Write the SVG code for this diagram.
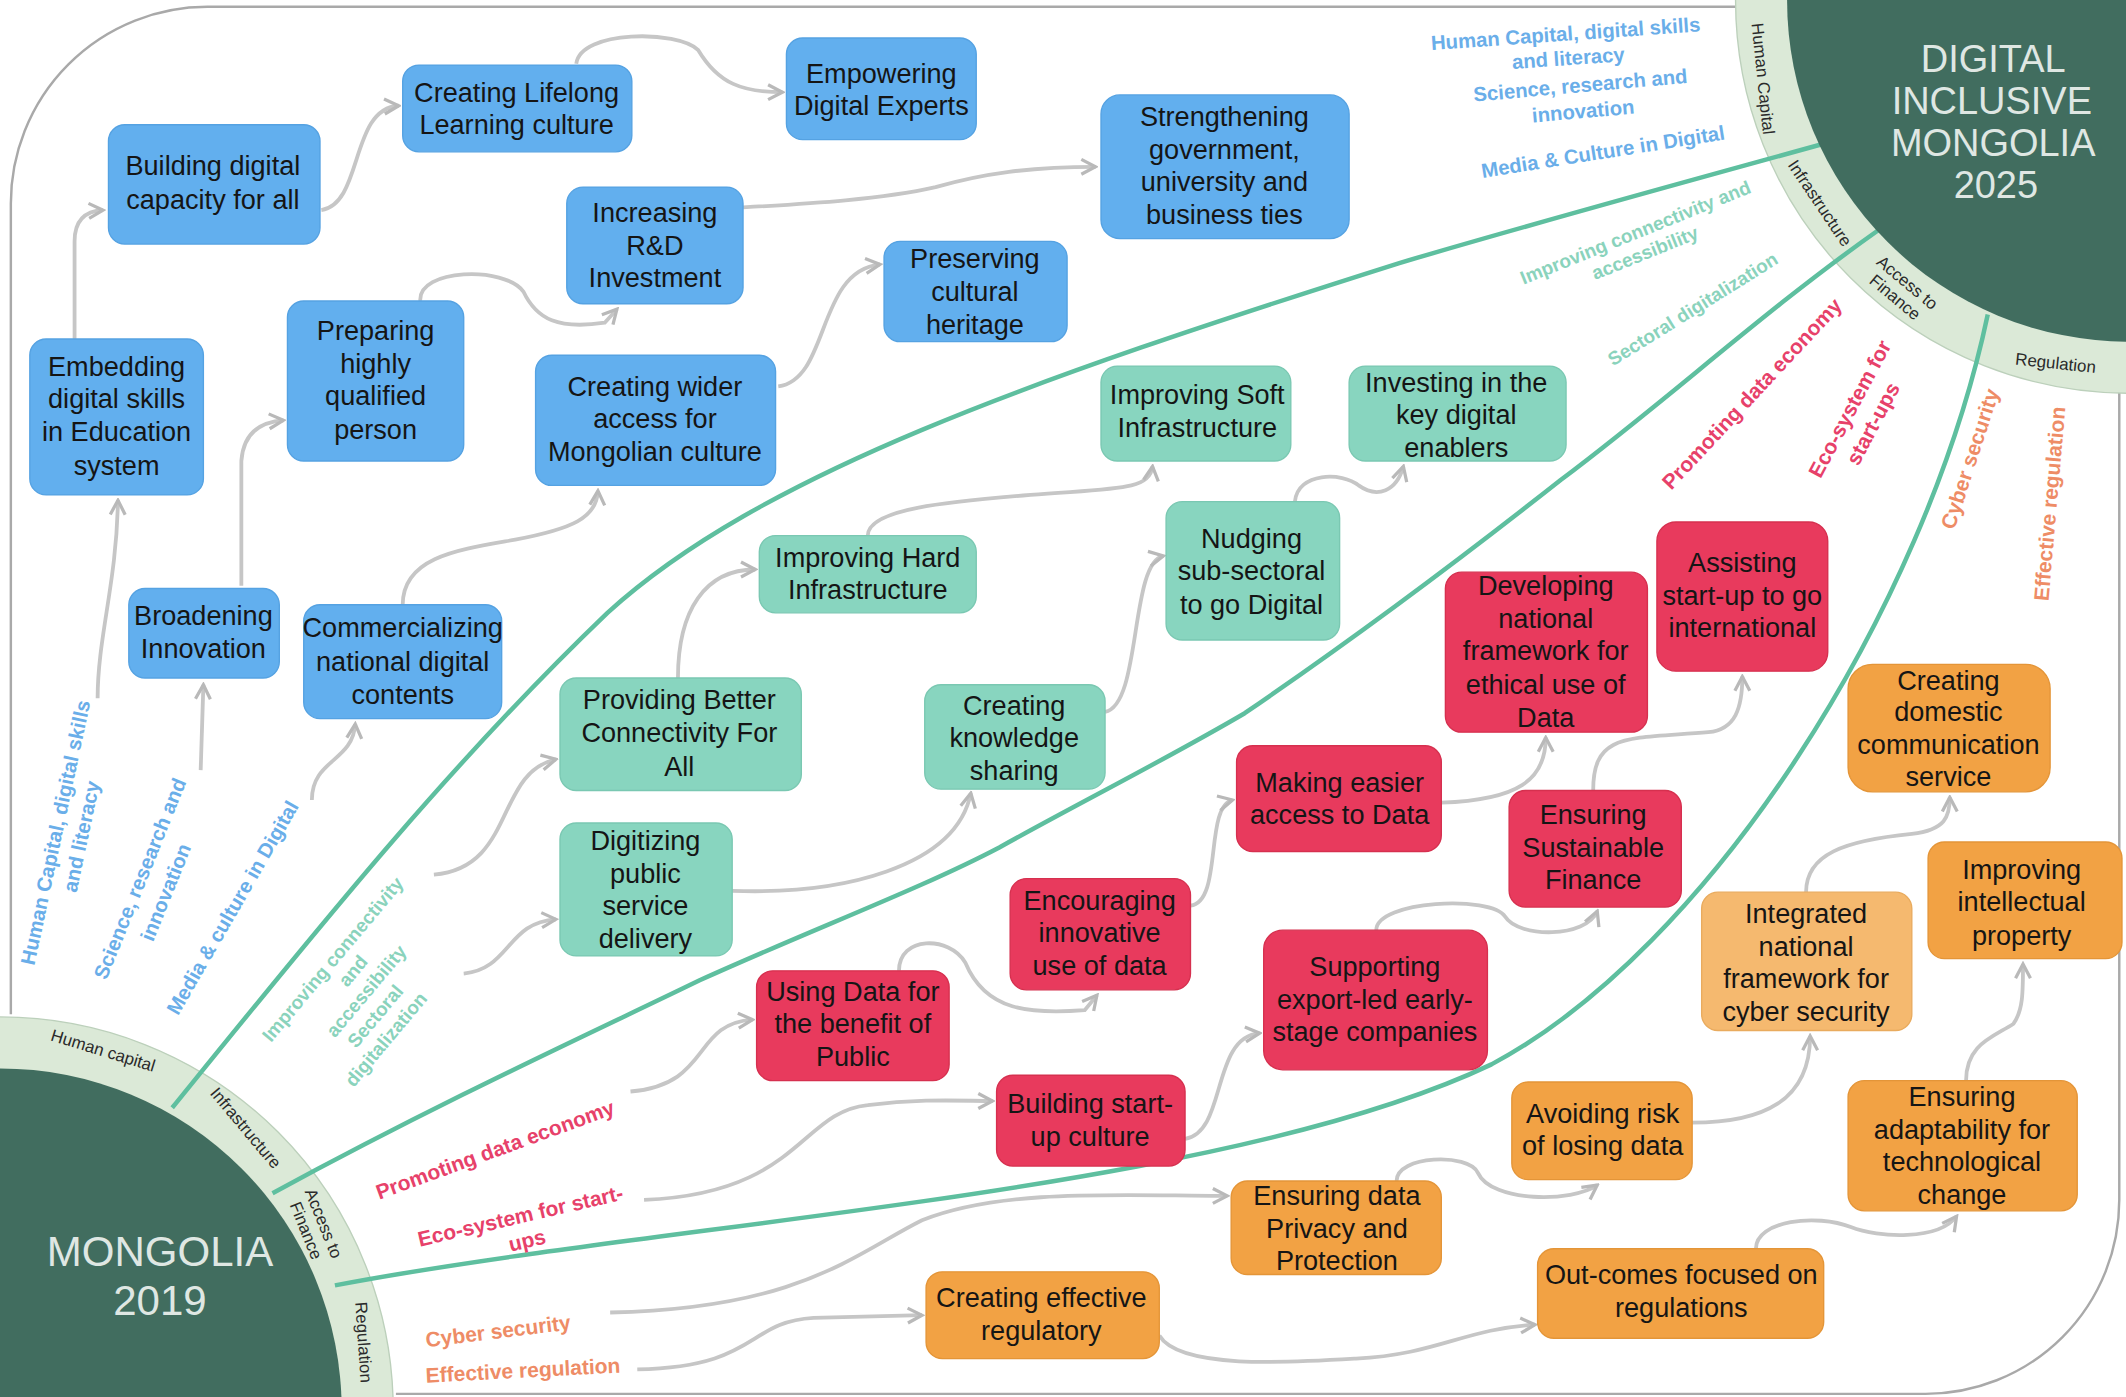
<svg xmlns="http://www.w3.org/2000/svg" width="2126" height="1397" viewBox="0 0 2126 1397">
<defs>
<style>
.nt{font-family:"Liberation Sans",Arial,sans-serif;font-size:20px;text-anchor:middle;fill:#151515}
.blue rect{fill:#62afee;stroke:#55a2e2;stroke-width:1}
.green rect{fill:#88d5bf;stroke:#7ac8b2;stroke-width:1}
.red rect{fill:#e83a5d;stroke:#d6304f;stroke-width:1}
.orange rect{fill:#f2a244;stroke:#e49538;stroke-width:1}
.lorange rect{fill:#f5b96f;stroke:#e9ab5e;stroke-width:1}
.conn path{fill:none;stroke:#c6c6c6;stroke-width:2.8;marker-end:url(#arr)}
.teal{fill:none;stroke:#5ebf9f;stroke-width:3.3}
.lab{font-family:"Liberation Sans",Arial,sans-serif;font-weight:bold;text-anchor:middle}
.lb{fill:#6aaee9;font-size:15px}
.lt{fill:#8ad3bc;font-size:14px}
.lr{fill:#e7416a;font-size:15.5px}
.lo{fill:#ee8c66;font-size:15.5px}
.ring{font-family:"Liberation Sans",Arial,sans-serif;font-size:12.5px;fill:#2a2a2a;text-anchor:middle}
.big{font-family:"Liberation Sans",Arial,sans-serif;fill:#dfe7e3;text-anchor:middle}
</style>
<marker id="arr" viewBox="0 0 14 14" refX="12" refY="7" markerWidth="14" markerHeight="14" markerUnits="userSpaceOnUse" orient="auto">
<path d="M1.5,1.5 L12,7 L1.5,12.5" fill="none" stroke="#b9b9b9" stroke-width="2.4"/>
</marker>
</defs>
<rect width="2126" height="1397" fill="#ffffff"/>
<g transform="scale(1.3559)">
<g id="frame">
<path d="M8,748 L8,150 A145,145 0 0 1 153,5 L1290,5" fill="none" stroke="#a9a9a9" stroke-width="1.8"/>
<path d="M1563,285 L1563,885 A143,143 0 0 1 1420,1028 L292,1028" fill="none" stroke="#a9a9a9" stroke-width="1.8"/>
</g>
<g id="rings">
<circle cx="1570" cy="0" r="290" fill="#dbe9d7" stroke="#bcd0bb" stroke-width="1"/>
<circle cx="0" cy="1040" r="290" fill="#dbe9d7" stroke="#bcd0bb" stroke-width="1"/>
</g>
<g id="boundaries">
<path class="teal" d="M127,817 C230,690 330,565 448,452 C560,350 760,280 1032,194 C1130,165 1240,135 1345,106"/>
<path class="teal" d="M201,880 C330,810 440,760 516,723 C600,685 680,655 737,625 C800,590 860,560 918,526 C1000,470 1080,410 1151,354 C1230,295 1300,230 1385,170"/>
<path class="teal" d="M247,948 C500,900 900,880 1100,785 C1260,700 1420,450 1466,232"/>
</g>
<g id="hub-2025">
<circle cx="1570" cy="0" r="252" fill="#416d5f"/>
<text class="big" font-size="28" x="1470" y="53">DIGITAL</text>
<text class="big" font-size="28" x="1469" y="84">INCLUSIVE</text>
<text class="big" font-size="28" x="1470" y="115">MONGOLIA</text>
<text class="big" font-size="28" x="1472" y="146">2025</text>
<text class="ring" transform="translate(1300,58) rotate(84)" y="4">Human Capital</text>
<text class="ring" transform="translate(1342,150) rotate(56)" y="4">Infrastructure</text>
<text class="ring" transform="translate(1402,214) rotate(40)"><tspan x="0" y="-3">Access to</tspan><tspan x="0" y="11">Finance</tspan></text>
<text class="ring" transform="translate(1516,268) rotate(6)" y="4">Regulation</text>
</g>
<g id="hub-2019">
<circle cx="0" cy="1040" r="252" fill="#416d5f"/>
<text class="big" font-size="31" x="118" y="934">MONGOLIA</text>
<text class="big" font-size="31" x="118" y="970">2019</text>
<text class="ring" transform="translate(76,775) rotate(17)" y="4">Human capital</text>
<text class="ring" transform="translate(181,832) rotate(50)" y="4">Infrastructure</text>
<text class="ring" transform="translate(232,905) rotate(68)"><tspan x="0" y="-3">Access to</tspan><tspan x="0" y="11">Finance</tspan></text>
<text class="ring" transform="translate(268,990) rotate(86)" y="4">Regulation</text>
</g>
<g id="theme-labels">
<text class="lab lb" transform="translate(1155,30) rotate(-4)">Human Capital, digital skills</text>
<text class="lab lb" transform="translate(1157,48) rotate(-4)">and literacy</text>
<text class="lab lb" transform="translate(1166,68) rotate(-5)">Science, research and</text>
<text class="lab lb" transform="translate(1168,87) rotate(-5)">innovation</text>
<text class="lab lb" transform="translate(1183,117) rotate(-9)">Media &amp; Culture in Digital</text>
<text class="lab lt" transform="translate(1208,176) rotate(-22)">Improving connectivity and</text>
<text class="lab lt" transform="translate(1215,191) rotate(-22)">accessibility</text>
<text class="lab lt" transform="translate(1251,232) rotate(-32)">Sectoral digitalization</text>
<text class="lab lr" transform="translate(1296,294) rotate(-47)">Promoting data economy</text>
<text class="lab lr" transform="translate(1369,304) rotate(-62)">Eco-system for</text>
<text class="lab lr" transform="translate(1386,315) rotate(-62)">start-ups</text>
<text class="lab lo" transform="translate(1458,340) rotate(-72)">Cyber security</text>
<text class="lab lo" transform="translate(1517,372) rotate(-85)">Effective regulation</text>
<text class="lab lb" transform="translate(46,615) rotate(-78)">Human Capital, digital skills</text>
<text class="lab lb" transform="translate(65,618) rotate(-78)">and literacy</text>
<text class="lab lb" transform="translate(108,650) rotate(-68)">Science, research and</text>
<text class="lab lb" transform="translate(127,660) rotate(-68)">innovation</text>
<text class="lab lb" transform="translate(176,672) rotate(-60)">Media &amp; culture in Digital</text>
<g transform="translate(246,708) rotate(-50)" font-size="15">
<text class="lab lt" x="0" y="4" font-size="15">Improving connectivity</text>
<text class="lab lt" x="3" y="21" font-size="15">and</text>
<text class="lab lt" x="-2" y="38" font-size="15">accessibility</text>
<text class="lab lt" x="-12" y="55" font-size="15">Sectoral</text>
<text class="lab lt" x="-20" y="72" font-size="15">digitalization</text>
</g>
<text class="lab lr" transform="translate(367,853) rotate(-20)">Promoting data economy</text>
<text class="lab lr" transform="translate(385,902) rotate(-13)">Eco-system for start-</text>
<text class="lab lr" transform="translate(390,920) rotate(-13)">ups</text>
<text class="lab lo" transform="translate(368,987) rotate(-7)">Cyber security</text>
<text class="lab lo" transform="translate(386,1016) rotate(-3)">Effective regulation</text>
</g>
<g id="connectors" class="conn">
<path d="M55,250 L55,178 Q55,156 76,155"/>
<path d="M237,155 C268,150 258,80 294,78"/>
<path d="M425,47 C428,22 500,22 515,37 C530,62 548,68 577,68"/>
<path d="M548,153 C600,150 650,147 690,138 C725,128 760,123 808,123"/>
<path d="M310,222 C308,198 372,196 386,215 C396,236 412,243 446,238 L455,228"/>
<path d="M574,285 C612,280 602,200 649,195"/>
<path d="M178,432 L178,340 Q180,312 209,310"/>
<path d="M297,446 C297,410 340,405 380,398 C422,390 440,382 441,362"/>
<path d="M72,515 C72,470 86,430 87,369"/>
<path d="M148,568 L150,505"/>
<path d="M230,590 C230,560 260,562 262,534"/>
<path d="M320,645 C380,640 365,570 410,560"/>
<path d="M342,718 C376,715 374,680 410,678"/>
<path d="M500,500 C500,450 520,420 557,420"/>
<path d="M640,395 C640,375 700,370 760,365 C822,360 848,362 850,344"/>
<path d="M540,657 C620,660 705,640 716,585"/>
<path d="M815,525 C842,520 833,415 858,410"/>
<path d="M955,370 C957,348 990,348 1002,358 C1016,368 1030,362 1035,344"/>
<path d="M465,805 C525,800 510,755 555,752"/>
<path d="M475,885 C590,880 590,820 640,815 C680,810 710,812 732,812"/>
<path d="M663,716 C663,690 700,690 712,710 C727,746 760,748 800,745 L809,734"/>
<path d="M878,668 C902,665 888,595 909,590"/>
<path d="M1063,592 C1120,590 1140,575 1140,544"/>
<path d="M1175,583 C1175,540 1200,545 1260,540 C1280,538 1285,522 1285,499"/>
<path d="M1015,686 C1015,664 1100,660 1110,676 C1120,692 1170,692 1178,672"/>
<path d="M874,840 C905,835 893,765 929,762"/>
<path d="M450,968 C590,965 630,925 680,900 C740,876 830,882 905,882"/>
<path d="M470,1010 C560,1008 550,975 600,972 L680,970"/>
<path d="M1030,871 C1030,852 1083,850 1090,865 C1100,887 1160,887 1178,874"/>
<path d="M855,985 C870,1010 950,1005 1000,1002 C1060,999 1080,980 1132,977"/>
<path d="M1248,828 C1300,828 1335,812 1335,764"/>
<path d="M1332,658 C1332,630 1360,620 1410,615 C1435,612 1438,602 1438,588"/>
<path d="M1295,921 C1295,900 1340,895 1365,905 C1385,913 1430,915 1443,897"/>
<path d="M1450,797 C1450,770 1470,765 1485,755 C1492,745 1492,732 1492,711"/>
</g>
<g id="n-building-capacity" class="blue"><rect x="80" y="92" width="156" height="88" rx="12"/><text class="nt"><tspan x="157" y="129">Building digital</tspan><tspan x="157" y="154">capacity for all</tspan></text></g>
<g id="n-lifelong" class="blue"><rect x="297" y="48" width="169" height="64" rx="12"/><text class="nt"><tspan x="381" y="75">Creating Lifelong</tspan><tspan x="381" y="99">Learning culture</tspan></text></g>
<g id="n-empowering" class="blue"><rect x="580" y="28" width="140" height="75" rx="12"/><text class="nt"><tspan x="650" y="61">Empowering</tspan><tspan x="650" y="85">Digital Experts</tspan></text></g>
<g id="n-strengthening" class="blue"><rect x="812" y="70" width="183" height="106" rx="14"/><text class="nt"><tspan x="903" y="93">Strengthening</tspan><tspan x="903" y="117">government,</tspan><tspan x="903" y="141">university and</tspan><tspan x="903" y="165">business ties</tspan></text></g>
<g id="n-rnd" class="blue"><rect x="418" y="138" width="130" height="86" rx="12"/><text class="nt"><tspan x="483" y="164">Increasing</tspan><tspan x="483" y="188">R&amp;D</tspan><tspan x="483" y="212">Investment</tspan></text></g>
<g id="n-preserving" class="blue"><rect x="652" y="178" width="135" height="74" rx="12"/><text class="nt"><tspan x="719" y="198">Preserving</tspan><tspan x="719" y="222">cultural</tspan><tspan x="719" y="246">heritage</tspan></text></g>
<g id="n-embedding" class="blue"><rect x="22" y="250" width="128" height="115" rx="12"/><text class="nt"><tspan x="86" y="277">Embedding</tspan><tspan x="86" y="301">digital skills</tspan><tspan x="86" y="325">in Education</tspan><tspan x="86" y="350">system</tspan></text></g>
<g id="n-preparing" class="blue"><rect x="212" y="222" width="130" height="118" rx="12"/><text class="nt"><tspan x="277" y="251">Preparing</tspan><tspan x="277" y="275">highly</tspan><tspan x="277" y="299">qualified</tspan><tspan x="277" y="324">person</tspan></text></g>
<g id="n-wider-access" class="blue"><rect x="395" y="262" width="177" height="96" rx="12"/><text class="nt"><tspan x="483" y="292">Creating wider</tspan><tspan x="483" y="316">access for</tspan><tspan x="483" y="340">Mongolian culture</tspan></text></g>
<g id="n-broadening" class="blue"><rect x="95" y="434" width="111" height="66" rx="12"/><text class="nt"><tspan x="150" y="461">Broadening</tspan><tspan x="150" y="485">Innovation</tspan></text></g>
<g id="n-commercializing" class="blue"><rect x="224" y="446" width="146" height="84" rx="12"/><text class="nt"><tspan x="297" y="470">Commercializing</tspan><tspan x="297" y="495">national digital</tspan><tspan x="297" y="519">contents</tspan></text></g>
<g id="n-soft-infra" class="green"><rect x="812" y="270" width="140" height="70" rx="12"/><text class="nt"><tspan x="883" y="298">Improving Soft</tspan><tspan x="883" y="322">Infrastructure</tspan></text></g>
<g id="n-investing" class="green"><rect x="995" y="270" width="160" height="70" rx="12"/><text class="nt"><tspan x="1074" y="289">Investing in the</tspan><tspan x="1074" y="313">key digital</tspan><tspan x="1074" y="337">enablers</tspan></text></g>
<g id="n-hard-infra" class="green"><rect x="560" y="395" width="160" height="57" rx="12"/><text class="nt"><tspan x="640" y="418">Improving Hard</tspan><tspan x="640" y="442">Infrastructure</tspan></text></g>
<g id="n-nudging" class="green"><rect x="860" y="370" width="128" height="102" rx="12"/><text class="nt"><tspan x="923" y="404">Nudging</tspan><tspan x="923" y="428">sub-sectoral</tspan><tspan x="923" y="453">to go Digital</tspan></text></g>
<g id="n-connectivity" class="green"><rect x="413" y="500" width="178" height="83" rx="12"/><text class="nt"><tspan x="501" y="523">Providing Better</tspan><tspan x="501" y="547">Connectivity For</tspan><tspan x="501" y="572">All</tspan></text></g>
<g id="n-knowledge" class="green"><rect x="682" y="505" width="133" height="77" rx="12"/><text class="nt"><tspan x="748" y="527">Creating</tspan><tspan x="748" y="551">knowledge</tspan><tspan x="748" y="575">sharing</tspan></text></g>
<g id="n-digitizing" class="green"><rect x="413" y="607" width="127" height="98" rx="12"/><text class="nt"><tspan x="476" y="627">Digitizing</tspan><tspan x="476" y="651">public</tspan><tspan x="476" y="675">service</tspan><tspan x="476" y="699">delivery</tspan></text></g>
<g id="n-ethical-data" class="red"><rect x="1066" y="422" width="149" height="118" rx="12"/><text class="nt"><tspan x="1140" y="439">Developing</tspan><tspan x="1140" y="463">national</tspan><tspan x="1140" y="487">framework for</tspan><tspan x="1140" y="512">ethical use of</tspan><tspan x="1140" y="536">Data</tspan></text></g>
<g id="n-assisting" class="red"><rect x="1222" y="385" width="126" height="110" rx="14"/><text class="nt"><tspan x="1285" y="422">Assisting</tspan><tspan x="1285" y="446">start-up to go</tspan><tspan x="1285" y="470">international</tspan></text></g>
<g id="n-easier-access" class="red"><rect x="912" y="550" width="151" height="78" rx="12"/><text class="nt"><tspan x="988" y="584">Making easier</tspan><tspan x="988" y="608">access to Data</tspan></text></g>
<g id="n-sustainable" class="red"><rect x="1113" y="583" width="127" height="86" rx="12"/><text class="nt"><tspan x="1175" y="608">Ensuring</tspan><tspan x="1175" y="632">Sustainable</tspan><tspan x="1175" y="656">Finance</tspan></text></g>
<g id="n-encouraging" class="red"><rect x="745" y="648" width="133" height="82" rx="12"/><text class="nt"><tspan x="811" y="671">Encouraging</tspan><tspan x="811" y="695">innovative</tspan><tspan x="811" y="719">use of data</tspan></text></g>
<g id="n-using-data" class="red"><rect x="558" y="716" width="142" height="81" rx="12"/><text class="nt"><tspan x="629" y="738">Using Data for</tspan><tspan x="629" y="762">the benefit of</tspan><tspan x="629" y="786">Public</tspan></text></g>
<g id="n-export" class="red"><rect x="932" y="686" width="165" height="103" rx="14"/><text class="nt"><tspan x="1014" y="720">Supporting</tspan><tspan x="1014" y="744">export-led early-</tspan><tspan x="1014" y="768">stage companies</tspan></text></g>
<g id="n-startup-culture" class="red"><rect x="735" y="793" width="139" height="67" rx="12"/><text class="nt"><tspan x="804" y="821">Building start-</tspan><tspan x="804" y="845">up culture</tspan></text></g>
<g id="n-domestic" class="orange"><rect x="1363" y="490" width="149" height="94" rx="18"/><text class="nt"><tspan x="1437" y="509">Creating</tspan><tspan x="1437" y="532">domestic</tspan><tspan x="1437" y="556">communication</tspan><tspan x="1437" y="580">service</tspan></text></g>
<g id="n-ip" class="orange"><rect x="1422" y="621" width="143" height="86" rx="12"/><text class="nt"><tspan x="1491" y="648">Improving</tspan><tspan x="1491" y="672">intellectual</tspan><tspan x="1491" y="697">property</tspan></text></g>
<g id="n-cyber" class="lorange"><rect x="1255" y="658" width="155" height="102" rx="12"/><text class="nt"><tspan x="1332" y="681">Integrated</tspan><tspan x="1332" y="705">national</tspan><tspan x="1332" y="729">framework for</tspan><tspan x="1332" y="753">cyber security</tspan></text></g>
<g id="n-avoiding" class="orange"><rect x="1115" y="798" width="133" height="72" rx="12"/><text class="nt"><tspan x="1182" y="828">Avoiding risk</tspan><tspan x="1182" y="852">of losing data</tspan></text></g>
<g id="n-adaptability" class="orange"><rect x="1363" y="797" width="169" height="96" rx="12"/><text class="nt"><tspan x="1447" y="816">Ensuring</tspan><tspan x="1447" y="840">adaptability for</tspan><tspan x="1447" y="864">technological</tspan><tspan x="1447" y="888">change</tspan></text></g>
<g id="n-privacy" class="orange"><rect x="908" y="871" width="155" height="69" rx="12"/><text class="nt"><tspan x="986" y="889">Ensuring data</tspan><tspan x="986" y="913">Privacy and</tspan><tspan x="986" y="937">Protection</tspan></text></g>
<g id="n-outcomes" class="orange"><rect x="1134" y="921" width="211" height="66" rx="12"/><text class="nt"><tspan x="1240" y="947">Out-comes focused on</tspan><tspan x="1240" y="971">regulations</tspan></text></g>
<g id="n-regulatory" class="orange"><rect x="683" y="938" width="172" height="64" rx="12"/><text class="nt"><tspan x="768" y="964">Creating effective</tspan><tspan x="768" y="988">regulatory</tspan></text></g>
</g>
</svg>
